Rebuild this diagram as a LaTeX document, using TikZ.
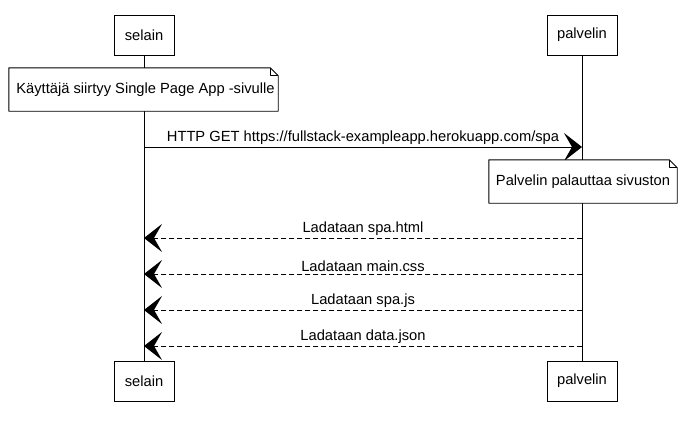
\documentclass[tikz,border=0pt]{standalone}
\usepackage{fontspec}
\setmainfont{Liberation Sans}
\usetikzlibrary{arrows.meta}
\begin{document}
\begin{tikzpicture}[x=1pt,y=-1pt,
  every node/.style={font=\fontsize{14.7}{17}\selectfont},
  actor/.style={draw, line width=0.9pt, fill=white, minimum height=40pt, inner xsep=8pt, inner ysep=0pt},
  notebox/.style={minimum height=43pt, inner xsep=6pt, inner ysep=0pt},
  noteline/.style={draw, line width=0.9pt, fill=white, line join=round},
  lifeline/.style={line width=0.9pt},
  headtip/.style={-{Stealth[length=18pt, width=28pt, inset=8pt]}},
  syncmsg/.style={line width=0.9pt, headtip},
  retmsg/.style={line width=0.9pt, dash pattern=on 5pt off 3pt, headtip},
  msglabel/.style={above, inner sep=2pt}
]
\useasboundingbox (0,0) rectangle (684,426);

% actors
\node[actor, minimum width=60pt] (s1) at (144,35) {selain};
\node[actor, minimum width=70pt] (p1) at (582,35) {palvelin};
\node[actor, minimum width=60pt] (s2) at (144,381) {selain};
\node[actor, minimum width=70pt] (p2) at (582,381) {palvelin};

% lifelines
\draw[lifeline] (s1.south) -- (s2.north);
\draw[lifeline] (p1.south) -- (p2.north);

% note 1
\node[notebox, minimum width=269pt] (n1) at (143.5,89.5) {};
\draw[noteline] (n1.south west) -- (n1.north west) -- ([xshift=-8pt]n1.north east)
  -- ([yshift=-8pt]n1.north east) -- (n1.south east) -- cycle;
\draw[noteline, fill=none] ([xshift=-8pt]n1.north east) |- ([yshift=-8pt]n1.north east);
\node at ([xshift=2pt]n1.center) {Käyttäjä siirtyy Single Page App -sivulle};

% message 1
\draw[syncmsg] (s1 |- 0,147) -- (p1 |- 0,147)
  node[msglabel, midway] {HTTP GET https://fullstack-exampleapp.herokuapp.com/spa};

% note 2
\node[notebox, minimum width=188pt] (n2) at (583,181.5) {};
\draw[noteline] (n2.south west) -- (n2.north west) -- ([xshift=-8pt]n2.north east)
  -- ([yshift=-8pt]n2.north east) -- (n2.south east) -- cycle;
\draw[noteline, fill=none] ([xshift=-8pt]n2.north east) |- ([yshift=-8pt]n2.north east);
\node at (n2.center) {Palvelin palauttaa sivuston};

% returns
\draw[retmsg] (p1 |- 0,238) -- (s1 |- 0,238) node[msglabel, midway] {Ladataan spa.html};
\draw[retmsg] (p1 |- 0,274) -- (s1 |- 0,274) node[msglabel, midway] {Ladataan main.css};
\draw[retmsg] (p1 |- 0,310) -- (s1 |- 0,310) node[msglabel, midway] {Ladataan spa.js};
\draw[retmsg] (p1 |- 0,346) -- (s1 |- 0,346) node[msglabel, midway] {Ladataan data.json};
\end{tikzpicture}
\end{document}
